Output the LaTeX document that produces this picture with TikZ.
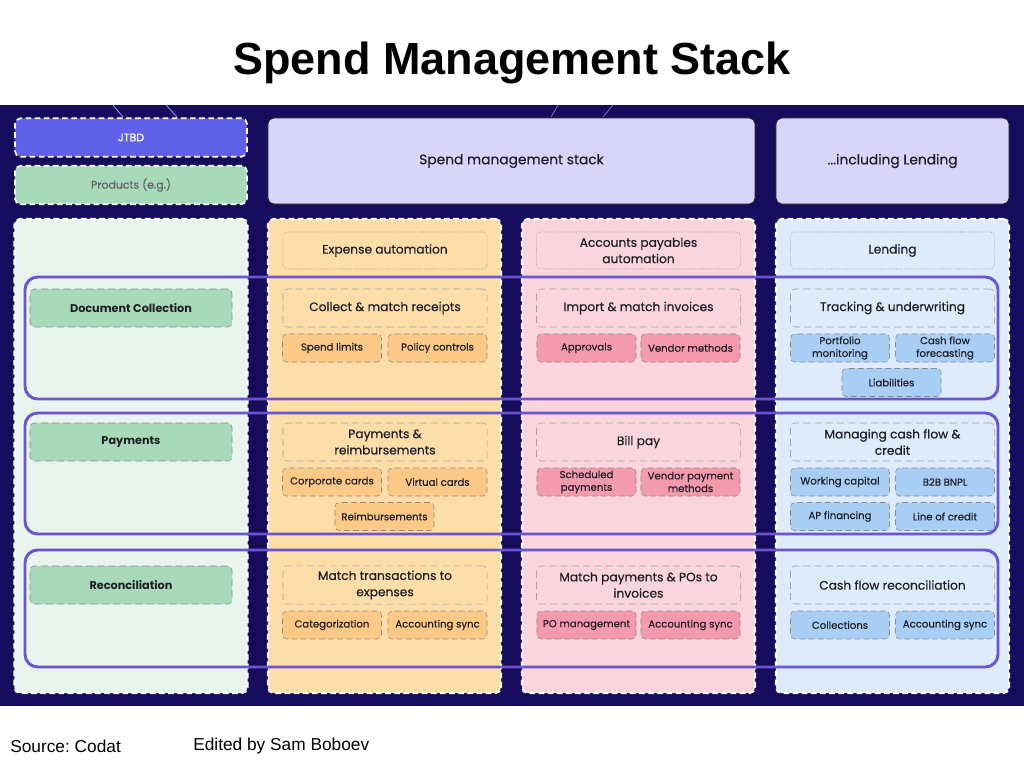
\documentclass[tikz,border=0pt]{standalone}
\usepackage{fontspec}
\setmainfont{Poppins}
\newfontfamily\medfont{Poppins}[FakeBold=0.35]
\newfontfamily\arialfont{Liberation Sans}
\usepackage{tikz}
\usetikzlibrary{positioning}
\definecolor{navy}{HTML}{160B5C}
\definecolor{ink}{HTML}{1E1E26}
\definecolor{jtbdblue}{HTML}{6060E8}
\definecolor{prodgreen}{HTML}{A8DABA}
\definecolor{leftbg}{HTML}{EAF4EE}
\definecolor{lavender}{HTML}{D9D4F9}
\definecolor{expbg}{HTML}{FEDEA8}
\definecolor{expsub}{HTML}{FCC987}
\definecolor{apbg}{HTML}{FAD5DD}
\definecolor{apsub}{HTML}{F49AAD}
\definecolor{lendbg}{HTML}{DDEBFA}
\definecolor{lendsub}{HTML}{A8CEF5}
\definecolor{bandpurple}{HTML}{6B55D0}
\definecolor{boxgray}{HTML}{8A8A8A}
\newcommand{\tfont}{\arialfont\bfseries\fontsize{32}{38}\selectfont}
\newcommand{\ffont}{\arialfont\fontsize{12.3}{14}\selectfont}
\newcommand{\hfont}{\medfont\fontsize{9.8}{11}\selectfont}
\newcommand{\gfont}{\medfont\fontsize{8.7}{11.6}\selectfont}
\newcommand{\sfont}{\medfont\fontsize{7.2}{9}\selectfont}
\newcommand{\lfont}{\bfseries\fontsize{8}{9}\selectfont}

\begin{document}
\begin{tikzpicture}[x=0.025cm,y=-0.025cm,
		panel/.style={draw=white,line width=1.4pt,dash pattern=on 4pt off 2.5pt,rounded corners=4pt,minimum width=5.825cm,minimum height=11.85cm},
		topbox/.style={draw=ink,line width=0.7pt,fill=lavender,rounded corners=4pt,minimum height=2.15cm,text=ink,font=\hfont},
		tag/.style={draw=white,line width=1.2pt,dash pattern=on 4pt off 2.5pt,rounded corners=4pt,minimum width=5.8cm,minimum height=0.96cm,font=\medfont\fontsize{7.8}{9}\selectfont},
		colhd/.style={draw=boxgray,densely dotted,rounded corners=3pt,minimum width=5.1cm,minimum height=0.925cm,align=center,text=ink,font=\gfont},
		grp/.style={draw=boxgray!80,dash pattern=on 5pt off 3pt,rounded corners=3pt,minimum width=5.1cm,minimum height=0.95cm,align=center,text=ink,font=\gfont},
		sub/.style={draw=boxgray,dash pattern=on 4pt off 2.5pt,rounded corners=3pt,minimum width=2.475cm,minimum height=0.7cm,inner sep=1pt,align=center,text=ink,font=\sfont},
		esub/.style={sub,fill=expsub},
		asub/.style={sub,fill=apsub},
		lsub/.style={sub,fill=lendsub},
		rowlbl/.style={draw=boxgray,dash pattern=on 5pt off 3pt,rounded corners=3pt,fill=prodgreen,minimum width=5.05cm,minimum height=0.95cm,text=ink,font=\lfont},
		band/.style={draw=bandpurple,line width=2.1pt,rounded corners=9pt},
		deco/.style={line width=0.6pt}
		]
		\useasboundingbox (0,0) rectangle (1024,768);
		\fill[white] (0,0) rectangle (1024,768);
		\node[font=\tfont] (title) at (512,63) {Spend Management Stack};
		\fill[navy] (0,105) rectangle (1024,706);
		\draw[deco,jtbdblue!70] (113,105) -- (123,117);
		\draw[deco,jtbdblue!70] (166,105) -- (177,117);
		\draw[deco,bandpurple!90] (558,105) -- (551,117);
		\draw[deco,bandpurple!90] (613,105) -- (603,117);

		% Left column
		\node[tag,fill=jtbdblue,text=white] (jtbd) at (131,137.5) {JTBD};
		\node[tag,fill=prodgreen,text=ink!70] (prod) at (131,185) {Products (e.g.)};
		\node[panel,fill=leftbg] (left) at (131,456) {};

		% Stack headers
		\node[topbox,minimum width=12.175cm] (stack) at (511.5,161) {Spend management stack};
		\node[topbox,minimum width=5.825cm] (incl) at (892.5,161) {...including Lending};

		% Column panels
		\node[panel,fill=expbg] (exp) at (384.5,456) {};
		\node[panel,fill=apbg] (ap) at (638.5,456) {};
		\node[panel,fill=lendbg] (lend) at (892.5,456) {};
		\node[colhd] (exphd) at (385,250.5) {Expense automation};
		\node[colhd] (aphd) at (638.5,250.5) {Accounts payables\\automation};
		\node[colhd] (lendhd) at (892.5,250.5) {Lending};

		% Row bands
		\draw[band] (25,277) rectangle (998,399);
		\draw[band] (25,413) rectangle (998,534);
		\draw[band] (25,550) rectangle (998,667);

		% Document collection
		\node[rowlbl] (doc) at (131,308) {Document Collection};
		\node[grp] (receipts) at (385,308) {Collect \& match receipts};
		\node[esub] (limits) at (332,348) {Spend limits};
		\node[esub] (policy) at (437.5,348) {Policy controls};
		\node[grp] (invoices) at (638.5,308) {Import \& match invoices};
		\node[asub] (approvals) at (586.5,348) {Approvals};
		\node[asub] (vendor) at (690.5,348) {Vendor methods};
		\node[grp] (tracking) at (892.5,308) {Tracking \& underwriting};
		\node[lsub] (portfolio) at (840,348) {Portfolio\\monitoring};
		\node[lsub] (forecast) at (945,348) {Cash flow\\forecasting};
		\node[lsub] (liab) at (891.5,382.5) {Liabilities};

		% Payments
		\node[rowlbl] (pay) at (131,442) {Payments};
		\node[grp] (reimb) at (385,442) {Payments \&\\reimbursements};
		\node[esub] (corp) at (332,482) {Corporate cards};
		\node[esub] (virt) at (437.5,482) {Virtual cards};
		\node[esub] (reimbs) at (384.5,516.5) {Reimbursements};
		\node[grp] (bill) at (638.5,442) {Bill pay};
		\node[asub] (sched) at (586.5,482) {Scheduled\\payments};
		\node[asub] (vpm) at (690.5,482) {Vendor payment\\methods};
		\node[grp] (cashcr) at (892.5,442) {Managing cash flow \&\\credit};
		\node[lsub] (wc) at (840,482) {Working capital};
		\node[lsub] (bnpl) at (945,482) {B2B BNPL};
		\node[lsub] (apfin) at (840,516.5) {AP financing};
		\node[lsub] (loc) at (945,516.5) {Line of credit};

		% Reconciliation
		\node[rowlbl] (recon) at (131,585) {Reconciliation};
		\node[grp] (mtx) at (385,585) {Match transactions to\\expenses};
		\node[esub] (categ) at (332,625) {Categorization};
		\node[esub] (esync) at (437.5,625) {Accounting sync};
		\node[grp] (mpo) at (638.5,585) {Match payments \& POs to\\invoices};
		\node[asub] (pom) at (586.5,625) {PO management};
		\node[asub] (async) at (690.5,625) {Accounting sync};
		\node[grp] (cfr) at (892.5,585) {Cash flow reconciliation};
		\node[lsub] (coll) at (840,625) {Collections};
		\node[lsub] (lsync) at (945,625) {Accounting sync};

		% Footer
		\node[font=\ffont,anchor=west,inner sep=0pt] (src) at (10,746) {Source:\ Codat};
		\node[font=\ffont,anchor=west,inner sep=0pt] (edit) at (193,746) {Edited by Sam Boboev};
	\end{tikzpicture}
\end{document}
